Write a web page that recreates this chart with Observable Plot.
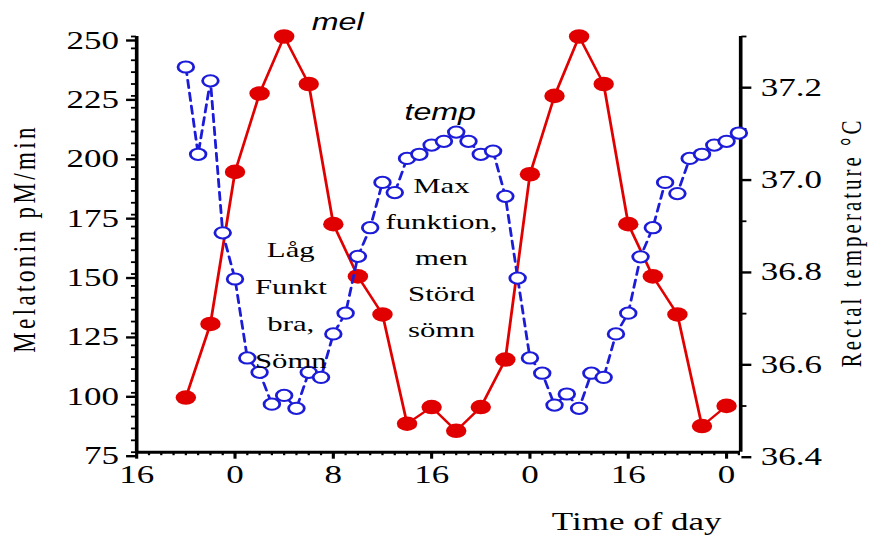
<!DOCTYPE html>
<html>
<head>
<meta charset="utf-8">
<script src="https://cdn.jsdelivr.net/npm/d3@7"></script>
<script src="https://cdn.jsdelivr.net/npm/@observablehq/plot@0.6"></script>
<style>
html, body { margin: 0; padding: 0; background: #ffffff; }
#chart { width: 869px; height: 541px; overflow: hidden; }
</style>
</head>
<body>
<div id="chart"></div>
<script>
// ---- data ----
const melHours  = [4, 6, 8, 10, 12, 14, 16, 18, 20, 22, 24, 26, 28, 30, 32, 34, 36, 38, 40, 42, 44, 46, 48];
const melValues = [98, 129, 193, 226, 250, 230, 171, 149, 133, 87, 94, 84, 94, 114, 192, 225, 250, 230, 171, 149, 133, 86, 94.5];

const tempHours  = [4, 5, 6, 7, 8, 9, 10, 11, 12, 13, 14, 15, 16, 17, 18, 19, 20, 21, 22, 23, 24, 25, 26,
                    27, 28, 29, 30, 31, 32, 33, 34, 35, 36, 37, 38, 39, 40, 41, 42, 43, 44, 45, 46, 47, 48, 49];
const tempValues = [37.234, 37.045, 37.204, 36.875, 36.775, 36.604, 36.573, 36.504, 36.523, 36.495,
                    36.573, 36.562, 36.656, 36.701, 36.824, 36.886, 36.984, 36.962, 37.036, 37.045,
                    37.065, 37.073, 37.093, 37.073, 37.045, 37.052, 36.954, 36.777, 36.604, 36.571,
                    36.502, 36.526, 36.495, 36.571, 36.562, 36.656, 36.701, 36.823, 36.886, 36.984,
                    36.960, 37.036, 37.045, 37.065, 37.073, 37.091];

const melTicks        = [75, 100, 125, 150, 175, 200, 225, 250];
const melMinorTicks   = d3.range(75, 251, 5);
const tempTicks       = [36.4, 36.6, 36.8, 37.0, 37.2];
const tempTickLabels  = ["36.4", "36.6", "36.8", "37.0", "37.2"];
const tempMinorTicks  = [36.5, 36.7, 36.9, 37.1, 37.3];
const xTicks          = [0, 8, 16, 24, 32, 40, 48];
const xTickLabels     = ["16", "0", "8", "16", "0", "16", "0"];
const xMinorTicks     = d3.range(0, 50, 1);

const yTitle = "Melatonin pM/min";
const y2Title = "Rectal temperature °C";
const xTitle = "Time of day";
const noteLeft = "Låg\nFunkt\nbra,\nSömn";
const noteRight = "Max\nfunktion,\nmen\nStörd\nsömn";

// ---- scales ----
const melDomain = [75, 250];
const tempDomain = [36.4, 37.3];
const xDomain = [0, 49.15];
const toMel = t => melDomain[0] + (t - tempDomain[0]) * (melDomain[1] - melDomain[0]) / (tempDomain[1] - tempDomain[0]);

const melData = melHours.map((h, i) => ({hour: h, value: melValues[i]}));
const tempData = tempHours.map((h, i) => ({hour: h, value: toMel(tempValues[i])}));
const tempTicksMel = tempTicks.map(toMel);
const tempMinorMel = tempMinorTicks.map(toMel);

const RED = "#e00000";
const BLUE = "#1c1cd8";
const SERIF = "Liberation Serif, Times New Roman, serif";
const SANS = "Liberation Sans, Arial, sans-serif";

const S = 1.4;            // horizontal stretch of the reference
const W = 869 / S, H = 541;

const plot = Plot.plot({
  width: W,
  height: H,
  marginLeft: 136 / S,
  marginRight: W - 740 / S,
  marginTop: 36,
  marginBottom: H - 451.7,
  x: {domain: xDomain},
  y: {domain: melDomain},
  style: {fontFamily: SERIF, fontSize: "25px", background: "white", color: "black"},
  marks: [
    // left axis
    Plot.axisY(melTicks, {anchor: "left", tickSize: 7.1, tickPadding: 5.5, strokeWidth: 2.4,
      fontSize: 25, fontFamily: SERIF, dy: 4, label: null, tickFormat: d => String(d)}),
    Plot.axisY(melMinorTicks, {anchor: "left", tickSize: 3.6, strokeWidth: 1.8, label: null, tickFormat: () => ""}),
    // right axis
    Plot.axisY(tempTicksMel, {anchor: "right", tickSize: 7.1, tickPadding: 7.2, strokeWidth: 2.4,
      fontSize: 25, fontFamily: SERIF, dy: 5, label: null,
      tickFormat: d => tempTickLabels[tempTicksMel.indexOf(d)]}),
    Plot.axisY(tempMinorMel, {anchor: "right", tickSize: 3.6, strokeWidth: 1.8, label: null, tickFormat: () => ""}),
    // bottom axis
    Plot.axisX(xTicks, {anchor: "bottom", tickSize: 7, tickPadding: 6.5, strokeWidth: 2.2,
      fontSize: 25, fontFamily: SERIF, label: null,
      tickFormat: d => xTickLabels[xTicks.indexOf(d)]}),
    Plot.axisX(xMinorTicks, {anchor: "bottom", tickSize: 3.5, strokeWidth: 1.6, label: null, tickFormat: () => ""}),
    // axis lines
    Plot.ruleX([xDomain[0]], {y1: melDomain[0], y2: melDomain[1], stroke: "black", strokeWidth: 2.6}),
    Plot.ruleX([xDomain[1]], {y1: melDomain[0], y2: melDomain[1], stroke: "black", strokeWidth: 2.6}),
    Plot.ruleY([melDomain[0]], {x1: xDomain[0], x2: xDomain[1], stroke: "black", strokeWidth: 3}),
    // melatonin
    Plot.line(melData, {x: "hour", y: "value", stroke: RED, strokeWidth: 2}),
    Plot.dot(melData, {x: "hour", y: "value", r: 7.3, fill: RED, stroke: "none"}),
    // temperature
    Plot.line(tempData, {x: "hour", y: "value", stroke: BLUE, strokeWidth: 2, strokeDasharray: "8,5"}),
    Plot.dot(tempData, {x: "hour", y: "value", r: 5.6, fill: "white", stroke: BLUE, strokeWidth: 2}),
    // annotations
    Plot.text(["mel"], {text: d => d, x: 16.35, y: 255.9, fontFamily: SANS, fontStyle: "italic", fontSize: 23,
      textAnchor: "middle", lineAnchor: "middle", fill: "black"}),
    Plot.text(["temp"], {text: d => d, x: 24.7, y: 218, fontFamily: SANS, fontStyle: "italic", fontSize: 23,
      textAnchor: "middle", lineAnchor: "middle", fill: "black"}),
    Plot.text([noteLeft], {text: d => d, x: 12.54, y: 138.9, fontFamily: SERIF, fontSize: 22, lineHeight: 1.68,
      textAnchor: "middle", lineAnchor: "middle", fill: "black"}),
    Plot.text([noteRight], {text: d => d, x: 24.8, y: 158.7, fontFamily: SERIF, fontSize: 22, lineHeight: 1.64,
      textAnchor: "middle", lineAnchor: "middle", fill: "black"}),
    // titles
    Plot.text([yTitle], {text: d => d, frameAnchor: "left", dx: 24 / S - 136 / S, dy: -6, rotate: -90,
      fontFamily: SERIF, fontSize: 23, textAnchor: "middle", lineAnchor: "middle", fill: "black"}),
    Plot.text([y2Title], {text: d => d, frameAnchor: "right", dx: 851 / S - 740 / S, dy: -2, rotate: -90,
      fontFamily: SERIF, fontSize: 21, textAnchor: "middle", lineAnchor: "middle", fill: "black"}),
    Plot.text([xTitle], {text: d => d, frameAnchor: "bottom", dx: 636 / S - (136 / S + 740 / S) / 2, dy: 69.8,
      fontFamily: SERIF, fontSize: 25, textAnchor: "middle", lineAnchor: "middle", fill: "black"})
  ]
});

const svg = plot.tagName.toLowerCase() === "svg" ? plot : plot.querySelector("svg");
svg.setAttribute("preserveAspectRatio", "none");
svg.setAttribute("width", 869);
svg.setAttribute("height", 541);
svg.style.width = "869px";
svg.style.height = "541px";
svg.style.maxWidth = "none";
svg.querySelectorAll("text").forEach(t => {
  if (t.textContent === yTitle) t.style.letterSpacing = "3.4px";
  if (t.textContent === y2Title) t.style.letterSpacing = "3px";
});
document.getElementById("chart").appendChild(plot);
</script>
</body>
</html>
